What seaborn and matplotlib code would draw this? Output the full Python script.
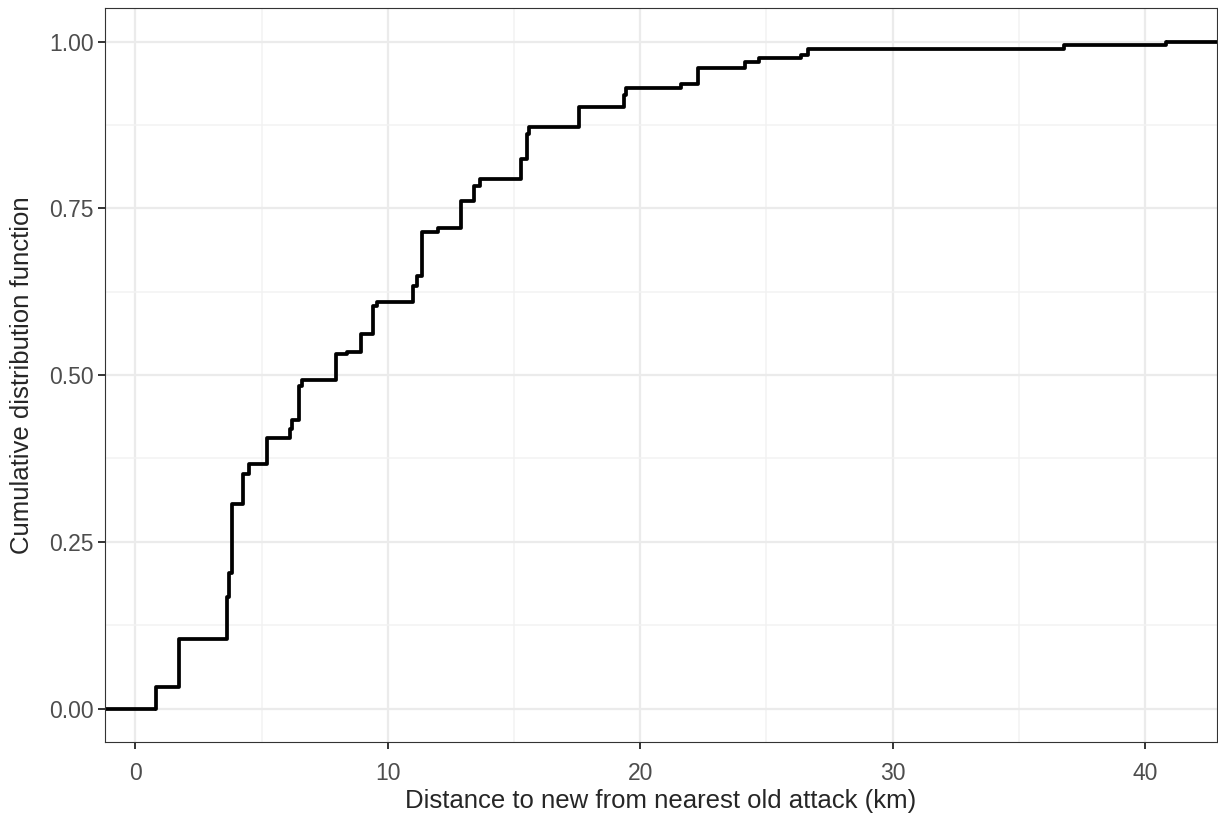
import numpy as np
import matplotlib
matplotlib.use("Agg")
import matplotlib.pyplot as plt
from matplotlib.ticker import MultipleLocator, FormatStrFormatter
import seaborn as sns

# distances (km) where the ECDF steps up, and the ECDF level after each step
dist_km = [0.80, 1.73, 3.62, 3.72, 3.84, 4.26, 4.49, 5.22, 6.11, 6.20,
           6.47, 6.60, 7.95, 8.40, 8.93, 9.43, 9.57, 11.00, 11.14, 11.36,
           12.00, 12.90, 13.40, 13.64, 15.29, 15.50, 15.60, 17.56, 19.36, 19.43,
           21.60, 22.29, 24.17, 24.69, 26.38, 26.64, 36.80, 40.85]
cdf_level = [0.033, 0.104, 0.168, 0.204, 0.306, 0.351, 0.366, 0.406, 0.419, 0.433,
             0.483, 0.492, 0.532, 0.535, 0.562, 0.603, 0.609, 0.634, 0.649, 0.715,
             0.721, 0.761, 0.784, 0.794, 0.824, 0.861, 0.872, 0.902, 0.920, 0.930,
             0.936, 0.960, 0.969, 0.976, 0.980, 0.989, 0.995, 1.000]

weights = np.diff(cdf_level, prepend=0)  # jump size at each distance

sns.set_style("whitegrid", {
    "axes.edgecolor": "#333333",
    "grid.color": "#ebebeb",
    "axes.linewidth": 1.4,
})
plt.rcParams["font.family"] = ["Liberation Sans", "DejaVu Sans"]

fig = plt.figure(figsize=(12.18, 8.16), dpi=100)
ax = fig.add_axes([0.0862, 0.0907, 0.9130, 0.8993])

sns.ecdfplot(x=dist_km, weights=weights, ax=ax, color="black", linewidth=2.7)

# ggplot-style expansion and padding of the step to the panel edges
span = max(dist_km) - min(dist_km)
xlo, xhi = min(dist_km) - 0.05 * span, max(dist_km) + 0.05 * span
ax.plot([xlo, dist_km[0]], [0, 0], color="black", linewidth=2.7, solid_capstyle="butt")
ax.plot([dist_km[-1], xhi], [cdf_level[-1], cdf_level[-1]], color="black", linewidth=2.7,
        solid_capstyle="butt")
ax.set_xlim(xlo, xhi)
ax.set_ylim(-0.05, 1.05)

ax.xaxis.set_major_locator(MultipleLocator(10))
ax.xaxis.set_minor_locator(MultipleLocator(5))
ax.yaxis.set_major_locator(MultipleLocator(0.25))
ax.yaxis.set_minor_locator(MultipleLocator(0.125))
ax.yaxis.set_major_formatter(FormatStrFormatter("%.2f"))
ax.grid(which="major", color="#ebebeb", linewidth=1.6)
ax.grid(which="minor", color="#f2f2f2", linewidth=1.1)
ax.set_axisbelow(True)
for s in ax.spines.values():
    s.set_visible(True)
    s.set_color("#333333")

ax.tick_params(which="major", length=5, width=1.4, color="#333333",
               labelsize=16.5, labelcolor="#4d4d4d", pad=3, bottom=True, left=True)
ax.tick_params(axis="x", which="major", pad=9.5)
ax.tick_params(which="minor", length=0)

ax.set_xlabel("Distance to new from nearest old attack (km)", fontsize=18.5, labelpad=3)
ax.set_ylabel("Cumulative distribution function", fontsize=18.5, labelpad=11)

fig.savefig("out.png", dpi=100)
